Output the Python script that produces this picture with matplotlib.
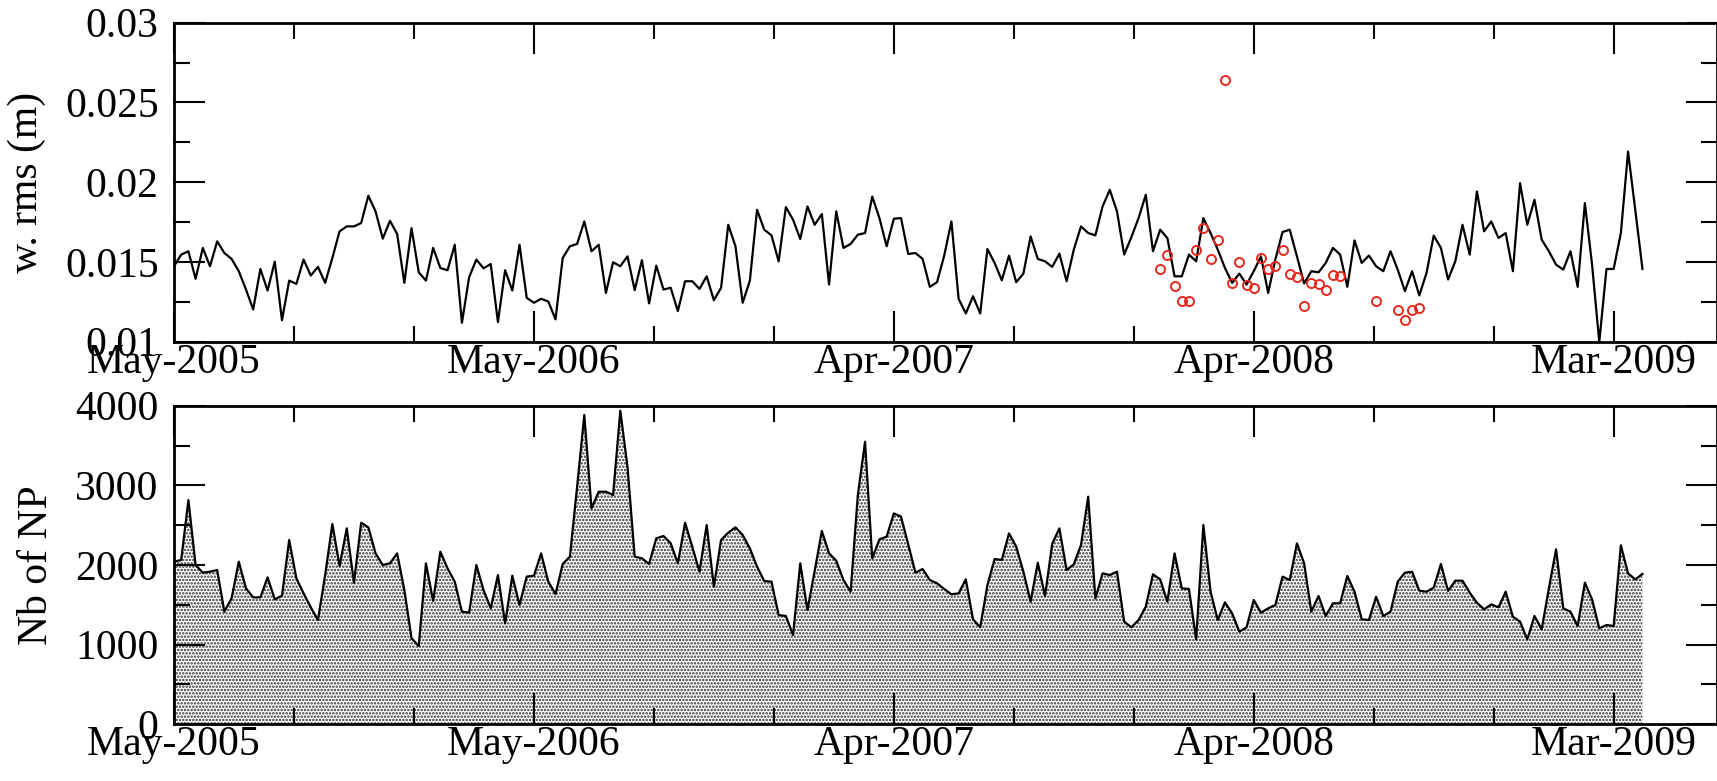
import numpy as np
import matplotlib.pyplot as plt
from matplotlib.ticker import MultipleLocator

plt.rcParams['font.family'] = ['Liberation Serif', 'DejaVu Serif']
plt.rcParams['hatch.linewidth'] = 1.2
plt.rcParams['hatch.color'] = '#2e2e2e'

# weekly series, one value per week starting May-2005
rms = [
    0.01473, 0.01546, 0.01567, 0.01394, 0.01588, 0.01473, 0.01629, 0.01556, 0.01519, 0.01442,
    0.01327, 0.01202, 0.01456, 0.01321, 0.01502, 0.01135, 0.01383, 0.01362, 0.01515, 0.01415,
    0.01469, 0.01369, 0.01525, 0.01692, 0.01723, 0.01723, 0.01744, 0.01915, 0.01817, 0.01646,
    0.01758, 0.01675, 0.01369, 0.01712, 0.01435, 0.01383, 0.01588, 0.01462, 0.01448, 0.01608,
    0.01119, 0.01404, 0.01515, 0.01460, 0.01487, 0.01123, 0.01448, 0.01321, 0.01608, 0.01275,
    0.01244, 0.01269, 0.01252, 0.01140, 0.01525, 0.01598, 0.01613, 0.01754, 0.01567, 0.01608,
    0.01306, 0.01498, 0.01473, 0.01535, 0.01323, 0.01511, 0.01240, 0.01477, 0.01327, 0.01338,
    0.01192, 0.01379, 0.01379, 0.01331, 0.01410, 0.01260, 0.01338, 0.01733, 0.01598, 0.01244,
    0.01383, 0.01827, 0.01702, 0.01667, 0.01504, 0.01844, 0.01765, 0.01644, 0.01848, 0.01733,
    0.01800, 0.01358, 0.01817, 0.01588, 0.01613, 0.01671, 0.01681, 0.01910, 0.01775, 0.01598,
    0.01771, 0.01775, 0.01550, 0.01556, 0.01519, 0.01344, 0.01373, 0.01540, 0.01754, 0.01269,
    0.01177, 0.01285, 0.01177, 0.01581, 0.01494, 0.01385, 0.01540, 0.01373, 0.01427, 0.01660,
    0.01519, 0.01504, 0.01469, 0.01552, 0.01379, 0.01577, 0.01723, 0.01681, 0.01667, 0.01848,
    0.01952, 0.01817, 0.01546, 0.01656, 0.01775, 0.01921, 0.01567, 0.01702, 0.01650, 0.01410,
    0.01410, 0.01546, 0.01504, 0.01775, 0.01681, 0.01577, 0.01462, 0.01369, 0.01427, 0.01358,
    0.01442, 0.01535, 0.01306, 0.01515, 0.01688, 0.01702, 0.01535, 0.01365, 0.01442, 0.01435,
    0.01494, 0.01588, 0.01546, 0.01344, 0.01635, 0.01494, 0.01540, 0.01473, 0.01442, 0.01567,
    0.01452, 0.01317, 0.01442, 0.01290, 0.01431, 0.01665, 0.01588, 0.01390, 0.01504, 0.01733,
    0.01546, 0.01942, 0.01692, 0.01754, 0.01650, 0.01681, 0.01442, 0.01994, 0.01733, 0.01890,
    0.01640, 0.01567, 0.01483, 0.01452, 0.01567, 0.01344, 0.01869, 0.01483, 0.00998, 0.01456,
    0.01456, 0.01681, 0.02192, 0.01827, 0.01456,
]

nb_np = [
    2042, 2063, 2816, 2000, 1904, 1916, 1937, 1414, 1582, 2042,
    1707, 1594, 1594, 1845, 1569, 1615, 2314, 1833, 1644, 1469,
    1310, 1874, 2515, 1987, 2460, 1778, 2531, 2473, 2146, 2000,
    2021, 2146, 1686, 1079, 983, 2021, 1548, 2167, 1958, 1791,
    1414, 1402, 2000, 1686, 1456, 1874, 1268, 1866, 1498, 1854,
    1866, 2146, 1791, 1636, 2013, 2105, 2983, 3883, 2711, 2920,
    2920, 2879, 3937, 3234, 2105, 2084, 2013, 2335, 2364, 2272,
    2021, 2531, 2230, 1916, 2502, 1728, 2314, 2406, 2473, 2377,
    2209, 1979, 1799, 1791, 1372, 1360, 1121, 2021, 1435, 1925,
    2427, 2146, 2054, 1812, 1665, 2879, 3548, 2084, 2322, 2356,
    2648, 2607, 2259, 1904, 1950, 1812, 1770, 1699, 1632, 1644,
    1820, 1318, 1218, 1749, 2075, 2063, 2397, 2230, 1916, 1540,
    2029, 1611, 2264, 2460, 1937, 2008, 2251, 2858, 1582, 1895,
    1874, 1916, 1289, 1218, 1310, 1477, 1883, 1820, 1540, 2146,
    1707, 1699, 1067, 2502, 1665, 1310, 1531, 1393, 1163, 1218,
    1561, 1402, 1456, 1498, 1854, 1812, 2272, 2021, 1414, 1611,
    1360, 1519, 1519, 1862, 1665, 1318, 1310, 1602, 1360, 1414,
    1791, 1904, 1916, 1678, 1665, 1715, 2013, 1674, 1803, 1803,
    1653, 1527, 1443, 1506, 1469, 1665, 1351, 1289, 1067, 1360,
    1192, 1707, 2197, 1456, 1414, 1234, 1778, 1569, 1205, 1247,
    1234, 2247, 1895, 1820, 1887,
]

# second solution, only available for part of 2008
red_weeks = [137, 138, 139, 140, 141, 142, 143, 144, 145, 146, 147, 148, 149,
             150, 151, 152, 153, 154, 155, 156, 157, 158, 159, 160, 161, 162,
             167, 170, 171, 172, 173]
red_rms = [0.01456, 0.01544, 0.01348, 0.01254, 0.01258, 0.01577, 0.01710, 0.01519,
           0.01639, 0.02638, 0.01367, 0.01500, 0.01356, 0.01335, 0.01525, 0.01456,
           0.01477, 0.01577, 0.01427, 0.01404, 0.01223, 0.01365, 0.01363, 0.01327,
           0.01421, 0.01410, 0.01254, 0.01198, 0.01133, 0.01198, 0.01213]

date_ticks = [0, 350, 700, 1050, 1400]
date_labels = ['May-2005', 'May-2006', 'Apr-2007', 'Apr-2008', 'Mar-2009']
rms_ticks = [0.01, 0.015, 0.02, 0.025, 0.03]
rms_labels = ['0.01', '0.015', '0.02', '0.025', '0.03']
np_ticks = [0, 1000, 2000, 3000, 4000]

days = np.arange(len(rms)) * 7
red_days = np.array(red_weeks) * 7

W, H = 1717, 781
fig = plt.figure(figsize=(W / 100, H / 100), dpi=100)
x0, x1 = 174, 1716.5
ax1 = fig.add_axes([x0 / W, 1 - 341.7 / H, (x1 - x0) / W, 319 / H])
ax2 = fig.add_axes([x0 / W, 1 - 724.3 / H, (x1 - x0) / W, 318.6 / H])


def style(ax):
    ax.set_xlim(0, 1500)
    ax.set_xticks(date_ticks)
    ax.set_xticklabels(date_labels)
    ax.xaxis.set_minor_locator(MultipleLocator(350 / 3))
    ax.tick_params(which='both', direction='in', top=True, right=True,
                   width=1.5, labelsize=30)
    ax.tick_params(which='major', length=22)
    ax.tick_params(which='minor', length=11.5)
    ax.tick_params(axis='y', pad=11)
    ax.tick_params(axis='x', pad=1)
    for sp in ax.spines.values():
        sp.set_linewidth(2)


# top: weighted rms
ax1.plot(days, rms, color='black', lw=1.6)
ax1.plot(red_days, red_rms, 'o', mfc='none', mec='#e8281e', ms=6.5, mew=1.4)
ax1.set_ylim(0.01, 0.03)
ax1.set_yticks(rms_ticks)
ax1.set_yticklabels(rms_labels)
ax1.yaxis.set_minor_locator(MultipleLocator(0.0025))
ax1.set_ylabel('w. rms (m)', fontsize=30, labelpad=14)
style(ax1)

# bottom: number of points, stippled area
ax2.fill_between(days, 0, nb_np, facecolor='white', edgecolor='#2e2e2e',
                 hatch='.....', linewidth=0)
ax2.plot(days, nb_np, color='black', lw=1.6)
ax2.set_ylim(0, 4000)
ax2.set_yticks(np_ticks)
ax2.yaxis.set_minor_locator(MultipleLocator(500))
ax2.set_ylabel('Nb of NP', fontsize=30, labelpad=14)
style(ax2)

fig.savefig('out.png', dpi=100)
